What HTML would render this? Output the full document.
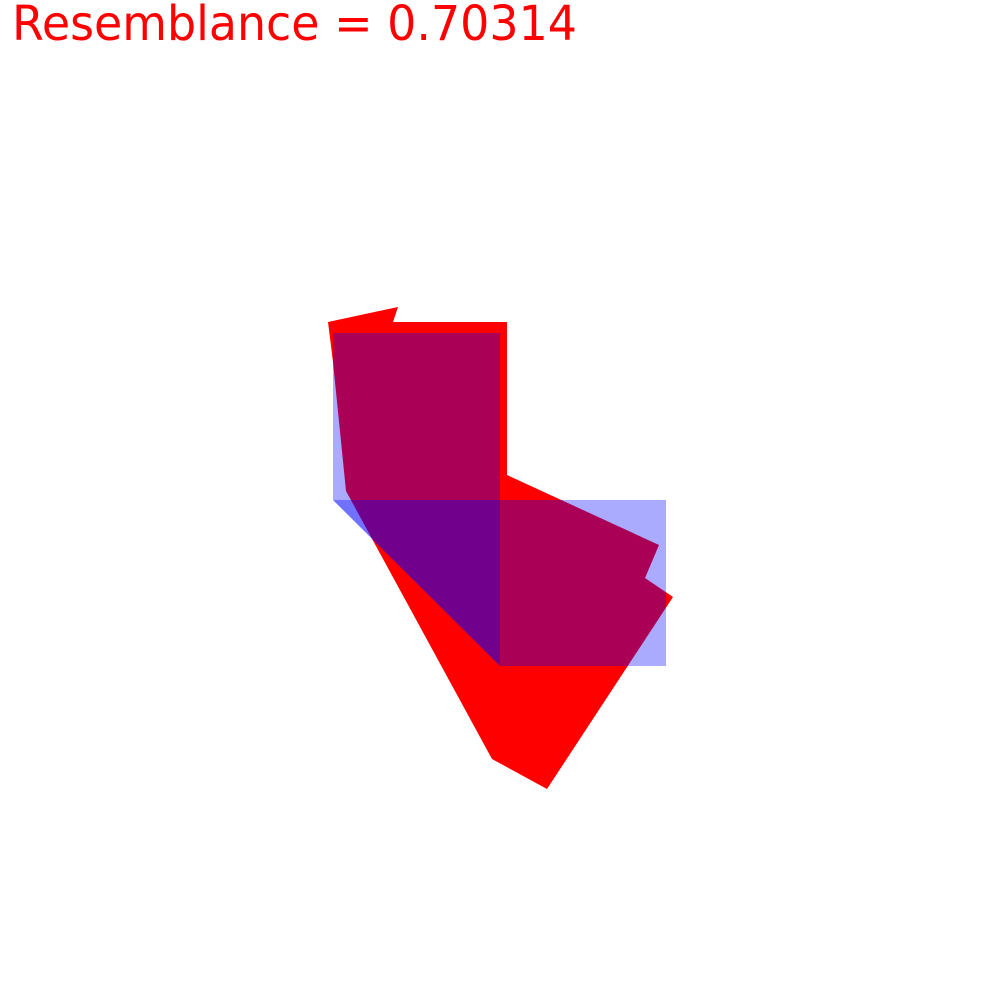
<!DOCTYPE html>
<html><head><meta charset="utf-8"><style>
html,body{margin:0;padding:0;background:#fff;width:1000px;height:1000px;overflow:hidden}
svg{display:block}
</style></head><body>
<svg width="1000" height="1000" viewBox="0 0 1000 1000">
<rect x="0" y="0" width="1000" height="1000" fill="#fff"/>
<text x="12" y="40" font-family="DejaVu Sans, Liberation Sans, sans-serif" font-size="48" textLength="565" lengthAdjust="spacingAndGlyphs" fill="#ff0000">Resemblance = 0.70314</text>
<g id="shapes"></g>
</svg>
<script>
const redPolygon = [[328,322],[398,307],[393,322],[507,322],[507,475],[659,545],[645,578],[673,597],[547,789],[492,759],[346,491],[333,362]];
const blueSquareTop = [[333,333],[500,333],[500,500],[333,500]];
const blueSquareRight = [[500,500],[666,500],[666,666],[500,666]];
const blueTriangle = [[333,500],[500,500],[500,666]];
const g = document.getElementById('shapes');
function poly(pts, fill, op, name){
  const p = document.createElementNS('http://www.w3.org/2000/svg','polygon');
  p.setAttribute('points', pts.map(q=>q.join(',')).join(' '));
  p.setAttribute('fill', fill);
  p.setAttribute('fill-opacity', op);
  
  
  g.appendChild(p);
}
poly(redPolygon,'#ff0000',1,'red-polygon');
poly(blueSquareTop,'#0000ff',0.333,'blue-square-top');
poly(blueSquareRight,'#0000ff',0.333,'blue-square-right');
poly(blueTriangle,'#0000ff',0.333,'blue-triangle-a');
poly(blueTriangle,'#0000ff',0.333,'blue-triangle-b');
</script>
</body></html>
